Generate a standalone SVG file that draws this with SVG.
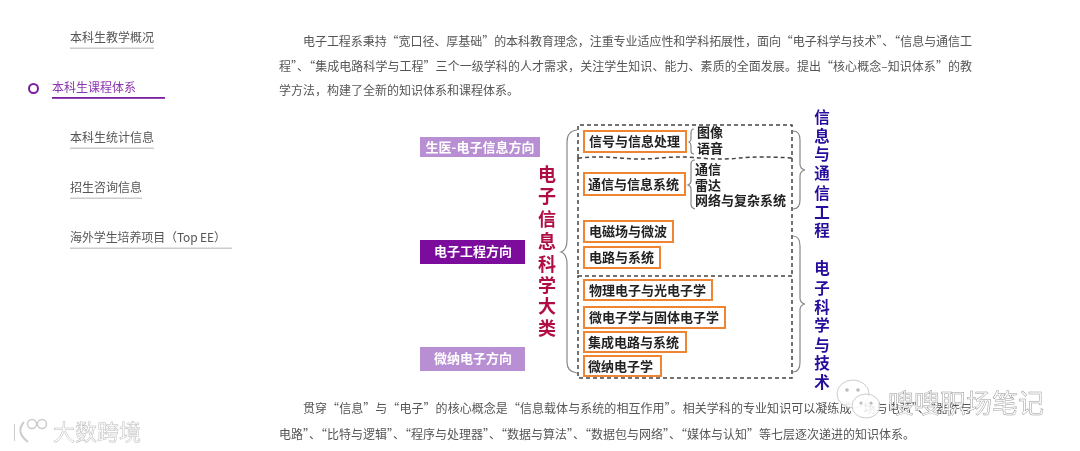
<svg xmlns="http://www.w3.org/2000/svg" width="1080" height="451" viewBox="0 0 1080 451">
<style>
text{font-family:"Noto Sans CJK SC","Noto Sans",sans-serif}
.nav{font-size:12px;fill:#555}
.p{font-size:12px;fill:#555}
.dir{font-size:13px;font-weight:700;fill:#fff;text-anchor:middle}
.box{fill:#fff;stroke:#ef8433;stroke-width:2}
.bt{font-size:13px;font-weight:700;fill:#222}
.big{font-size:18px;font-weight:700;fill:#b01045;text-anchor:middle}
.side{font-size:15.5px;font-weight:700;fill:#28109c;text-anchor:middle}
.dash{fill:none;stroke:#444;stroke-width:1.5;stroke-dasharray:4 3}
.br{fill:none;stroke:#888;stroke-width:1.2}
.wm{fill:#fff;stroke:#999;stroke-width:.5}
</style>
<defs><filter id="soft" x="0" y="0" width="100%" height="100%"><feGaussianBlur stdDeviation="0.4"/></filter></defs>
<rect width="1080" height="451" fill="#fff"/>
<g filter="url(#soft)">
<g id="sidebar">
<text class="nav" x="70" y="42">本科生教学概况</text><rect x="70" y="47.500" width="84" height="1.500" fill="#ccc"/>
<circle cx="33.500" cy="88.500" r="4.500" fill="none" stroke="#7b1fa2" stroke-width="2"/>
<text class="nav" x="52" y="92" style="fill:#8e35b0">本科生课程体系</text><rect x="52" y="97" width="113" height="1.800" fill="#7b1fa2"/>
<text class="nav" x="70" y="142">本科生统计信息</text><rect x="70" y="147.500" width="84" height="1.500" fill="#ccc"/>
<text class="nav" x="70" y="192">招生咨询信息</text><rect x="70" y="197.500" width="72" height="1.500" fill="#ccc"/>
<text class="nav" x="70" y="242" textLength="156">海外学生培养项目（Top EE）</text><rect x="70" y="247.500" width="162" height="1.500" fill="#ccc"/>
</g>
<g id="intro">
<text class="p" x="303" y="46" textLength="669">电子工程系秉持“宽口径、厚基础”的本科教育理念，注重专业适应性和学科拓展性，面向“电子科学与技术”、“信息与通信工</text>
<text class="p" x="279" y="71" textLength="693">程”、“集成电路科学与工程”三个一级学科的人才需求，关注学生知识、能力、素质的全面发展。提出“核心概念–知识体系”的教</text>
<text class="p" x="279" y="95">学方法，构建了全新的知识体系和课程体系。</text>
</g>
<g id="connectors">
<path class="dash" d="M578 158V125H792V158"/>
<path class="dash" d="M578 158Q600 156 620 158T660 158T700 158T740 158T792 158"/>
<path class="dash" d="M578 158V276M792 158V276"/>
<path class="dash" d="M578 276H792V378H578Z"/>
<path class="br" d="M577 130Q567 131 567 142V240Q567 250 561 252Q567 254 567 264V362Q567 372 577 373"/>
<path class="br" d="M694 129Q691 129 691 133V139Q691 141 689 142Q691 143 691 146V151Q691 154 694 154"/>
<path class="br" d="M695 160Q691 160 691 164V181Q691 184 688 185Q691 186 691 189V204Q691 208 695 209"/>
<path class="br" d="M793 131Q800 131 800 140V164Q800 169 805 170Q800 171 800 176V200Q800 209 793 209"/>
<path class="br" d="M793 236Q800 236 800 246V298Q800 303 805 304Q800 305 800 310V362Q800 372 793 372"/>
</g>
<g id="dir-bio"><rect x="420" y="137" width="120" height="20" fill="#b98fd3"/><text class="dir" x="480" y="152">生医-电子信息方向</text></g>
<g id="dir-ee"><rect x="420" y="240" width="105" height="24" fill="#7b0a9c"/><text class="dir" x="473" y="256">电子工程方向</text></g>
<g id="dir-nano"><rect x="420" y="347" width="105" height="24" fill="#b98fd3"/><text class="dir" x="473" y="363">微纳电子方向</text></g>
<g id="title">
<text class="big" x="547" y="181">电</text><text class="big" x="547" y="203">子</text><text class="big" x="547" y="226">信</text><text class="big" x="547" y="248">息</text><text class="big" x="547" y="271">科</text><text class="big" x="547" y="292">学</text><text class="big" x="547" y="313">大</text><text class="big" x="547" y="335">类</text>
</g>
<g id="n1"><rect class="box" x="584" y="131" width="102" height="21"/><text class="bt" x="589" y="146">信号与信息处理</text></g>
<g id="n2"><rect class="box" x="584" y="173" width="101" height="22"/><text class="bt" x="588" y="189">通信与信息系统</text></g>
<g id="n3"><rect class="box" x="584" y="221" width="89" height="21"/><text class="bt" x="589" y="236">电磁场与微波</text></g>
<g id="n4"><rect class="box" x="584" y="247" width="76" height="21"/><text class="bt" x="589" y="262">电路与系统</text></g>
<g id="n5"><rect class="box" x="584" y="280" width="128" height="20"/><text class="bt" x="589" y="295">物理电子与光电子学</text></g>
<g id="n6"><rect class="box" x="584" y="307" width="141" height="21"/><text class="bt" x="589" y="322">微电子学与固体电子学</text></g>
<g id="n7"><rect class="box" x="584" y="332" width="102" height="20"/><text class="bt" x="588" y="347">集成电路与系统</text></g>
<g id="n8"><rect class="box" x="584" y="356" width="77" height="20"/><text class="bt" x="588" y="371">微纳电子学</text></g>
<g id="leaf-signal"><text class="bt" x="697" y="137">图像</text><text class="bt" x="697" y="153">语音</text></g>
<g id="leaf-comm"><text class="bt" x="695" y="174">通信</text><text class="bt" x="695" y="190">雷达</text><text class="bt" x="695" y="205">网络与复杂系统</text></g>
<g id="side-info">
<text class="side" x="822" y="123">信</text><text class="side" x="822" y="142">息</text><text class="side" x="822" y="160">与</text><text class="side" x="822" y="179">通</text><text class="side" x="822" y="199">信</text><text class="side" x="822" y="218">工</text><text class="side" x="822" y="236">程</text>
</g>
<g id="side-elec">
<text class="side" x="822" y="274">电</text><text class="side" x="822" y="294">子</text><text class="side" x="822" y="313">科</text><text class="side" x="822" y="331">学</text><text class="side" x="822" y="351">与</text><text class="side" x="822" y="369">技</text><text class="side" x="822" y="388">术</text>
</g>
<g id="outro">
<text class="p" x="303" y="413" textLength="669">贯穿“信息”与“电子”的核心概念是“信息载体与系统的相互作用”。相关学科的专业知识可以凝练成“场与电荷”、“器件与</text>
<text class="p" x="279" y="439" textLength="636">电路”、“比特与逻辑”、“程序与处理器”、“数据与算法”、“数据包与网络”、“媒体与认知”等七层逐次递进的知识体系。</text>
</g>
<g id="watermarks">
<ellipse class="wm" cx="853" cy="394" rx="16" ry="14" fill-opacity=".85"/>
<ellipse class="wm" cx="866" cy="406" rx="14" ry="12" fill-opacity=".85"/>
<circle cx="847" cy="390" r="1.800" fill="#bbb"/><circle cx="858" cy="390" r="1.800" fill="#bbb"/><circle cx="861" cy="403" r="1.500" fill="#bbb"/><circle cx="871" cy="403" r="1.500" fill="#bbb"/>
<text x="888" y="413" font-size="26" class="wm">嗖嗖职场笔记</text>
<path fill="none" stroke="#ccc" stroke-width="2" d="M14 424V441M24 422Q15 432 28 442"/>
<circle cx="32" cy="424" r="4.500" fill="#fff" stroke="#ccc" stroke-width="1.500"/><circle cx="42" cy="424" r="4.500" fill="#fff" stroke="#ccc" stroke-width="1.500"/>
<text x="53" y="440" font-size="22" class="wm" style="stroke:#bbb">大数跨境</text>
</g>
</g>
</svg>
